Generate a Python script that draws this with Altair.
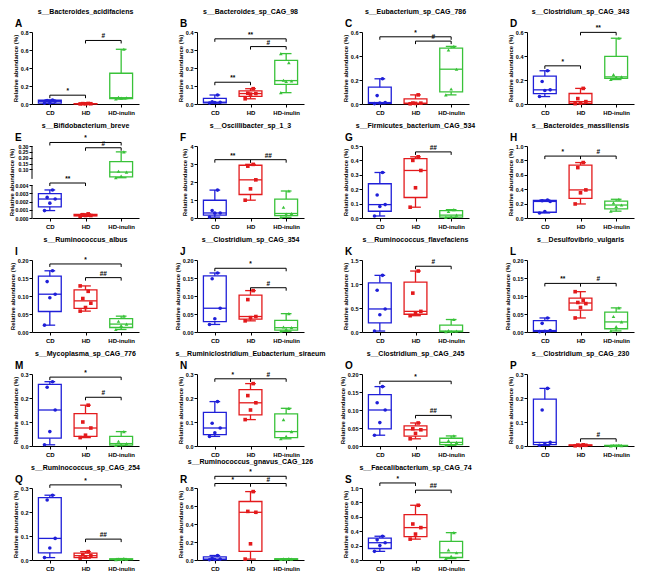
import altair as alt
import pandas as pd
import numpy as np

FONT = "Liberation Sans"
GROUPS = ["CD", "HD", "HD-inulin"]
COLORS = ["#1f1fd8", "#e31a1c", "#39c239"]
SHAPES = ["circle", "square", "triangle-up"]

LETTERS = list("ABCDEFGHIJKLMNOPQRS")
TITLES = [
    "s__Bacteroides_acidifaciens", "s__Bacteroides_sp_CAG_98", "s__Eubacterium_sp_CAG_786",
    "s__Clostridium_sp_CAG_343", "s__Bifidobacterium_breve", "s__Oscillibacter_sp_1_3",
    "s__Firmicutes_bacterium_CAG_534", "s__Bacteroides_massiliensis", "s__Ruminococcus_albus",
    "s__Clostridium_sp_CAG_354", "s__Ruminococcus_flavefaciens", "s__Desulfovibrio_vulgaris",
    "s__Mycoplasma_sp_CAG_776", "s__Ruminiclostridium_Eubacterium_siraeum", "s__Clostridium_sp_CAG_245",
    "s__Clostridium_sp_CAG_230", "s__Ruminococcus_sp_CAG_254", "s__Ruminococcus_gnavus_CAG_126",
    "s__Faecalibacterium_sp_CAG_74",
]

# values per panel (relative abundance, %)
A_CD = [0.008, 0.012, 0.03, 0.038, 0.045]
A_HD = [0.001, 0.002, 0.003, 0.004, 0.006]
A_IN = [0.055, 0.065, 0.07, 0.075, 0.608]
A_TICKS = [0, 0.2, 0.4, 0.6, 0.8]
A_SIG = [["CD", "HD", 0.098, "*"], ["HD", "HD-inulin", 0.706, "#"]]

B_CD = [0.005, 0.008, 0.01, 0.012, 0.05]
B_HD = [0.029, 0.055, 0.058, 0.06, 0.085]
B_IN = [0.063, 0.125, 0.128, 0.132, 0.23, 0.28]
B_TICKS = [0, 0.1, 0.2, 0.3, 0.4]
B_SIG = [["CD", "HD", 0.121, "**"], ["CD", "HD-inulin", 0.362, "**"], ["HD", "HD-inulin", 0.319, "#"]]

C_CD = [0.003, 0.008, 0.012, 0.07, 0.21]
C_HD = [0.002, 0.005, 0.007, 0.008, 0.076]
C_IN = [0.076, 0.125, 0.29, 0.45, 0.48]
C_TICKS = [0, 0.2, 0.4, 0.6]
C_SIG = [["CD", "HD-inulin", 0.56, "*"], ["HD", "HD-inulin", 0.524, "#"]]

D_CD = [0.062, 0.112, 0.118, 0.188, 0.277]
D_HD = [0.003, 0.008, 0.02, 0.045, 0.13]
D_IN = [0.204, 0.222, 0.226, 0.245, 0.548]
D_TICKS = [0, 0.2, 0.4, 0.6]
D_SIG = [["CD", "HD", 0.318, "*"], ["HD", "HD-inulin", 0.597, "**"]]

E_CD = [0.0009, 0.0018, 0.0023, 0.0025, 0.0034]
E_HD = [0.0002, 0.0003, 0.0003, 0.0004, 0.0005]
E_IN = [0.03, 0.045, 0.078, 0.085, 0.25]
E_TICKS = [0, 0.001, 0.002, 0.003, 0.004, 0.10, 0.15, 0.20, 0.25, 0.30]
E_SIG = [["CD", "HD", 0.009, "**"], ["CD", "HD-inulin", 0.33, "*"], ["HD", "HD-inulin", 0.285, "#"]]
E_BREAK_DOMAIN = [0, 0.004, 0.019, 0.30]
E_SEG_LO = [0, 0.02]
E_SEG_HI = [0.004, 0.30]

F_CD = [0.05, 0.27, 0.28, 0.42, 1.55]
F_HD = [0.99, 1.62, 2.12, 2.88, 2.98]
F_IN = [0.04, 0.22, 0.25, 0.6, 1.5]
F_TICKS = [0, 1, 2, 3, 4]
F_SIG = [["CD", "HD", 3.24, "**"], ["HD", "HD-inulin", 3.24, "##"]]

G_CD = [0.014, 0.08, 0.093, 0.16, 0.316]
G_HD = [0.075, 0.21, 0.33, 0.40, 0.425]
G_IN = [0.004, 0.008, 0.02, 0.045, 0.058]
G_TICKS = [0, 0.1, 0.2, 0.3, 0.4, 0.5]
G_SIG = [["HD", "HD-inulin", 0.459, "##"]]

H_CD = [0.07, 0.09, 0.23, 0.24, 0.25]
H_HD = [0.195, 0.35, 0.39, 0.70, 0.77]
H_IN = [0.095, 0.16, 0.18, 0.21, 0.26]
H_TICKS = [0, 0.2, 0.4, 0.6, 0.8, 1.0]
H_SIG = [["CD", "HD", 0.86, "*"], ["HD", "HD-inulin", 0.86, "#"]]

I_CD = [0.019, 0.095, 0.105, 0.14, 0.17]
I_HD = [0.058, 0.068, 0.08, 0.093, 0.113, 0.128]
I_IN = [0.007, 0.018, 0.022, 0.03, 0.044]
I_TICKS = [0, 0.05, 0.10, 0.15, 0.20]
I_SIG = [["CD", "HD-inulin", 0.189, "*"], ["HD", "HD-inulin", 0.151, "##"]]

J_CD = [0.021, 0.037, 0.066, 0.148, 0.164]
J_HD = [0.031, 0.04, 0.043, 0.09, 0.115]
J_IN = [0.002, 0.008, 0.012, 0.014, 0.051]
J_TICKS = [0, 0.05, 0.10, 0.15, 0.20]
J_SIG = [["CD", "HD-inulin", 0.177, "*"], ["HD", "HD-inulin", 0.123, "#"]]

K_CD = [0.02, 0.36, 0.48, 0.87, 1.18]
K_HD = [0.34, 0.40, 0.43, 0.81, 1.27]
K_IN = [0.005, 0.01, 0.02, 0.03, 0.26]
K_TICKS = [0, 0.5, 1.0, 1.5]
K_SIG = [["HD", "HD-inulin", 1.37, "#"]]

L_CD = [0.001, 0.002, 0.004, 0.024, 0.039]
L_HD = [0.039, 0.068, 0.079, 0.082, 0.088, 0.112]
L_IN = [0.003, 0.015, 0.028, 0.043, 0.067]
L_TICKS = [0, 0.05, 0.10, 0.15, 0.20]
L_SIG = [["CD", "HD", 0.135, "**"], ["HD", "HD-inulin", 0.135, "#"]]

M_CD = [0.005, 0.06, 0.15, 0.245, 0.268]
M_HD = [0.035, 0.045, 0.075, 0.1, 0.17]
M_IN = [0.002, 0.005, 0.01, 0.02, 0.06]
M_TICKS = [0, 0.1, 0.2, 0.3]
M_SIG = [["CD", "HD-inulin", 0.287, "*"], ["HD", "HD-inulin", 0.203, "#"]]

N_CD = [0.04, 0.055, 0.075, 0.095, 0.185]
N_HD = [0.11, 0.15, 0.18, 0.21, 0.26]
N_IN = [0.03, 0.04, 0.06, 0.11, 0.157]
N_TICKS = [0, 0.1, 0.2, 0.3]
N_SIG = [["CD", "HD", 0.28, "*"], ["HD", "HD-inulin", 0.28, "#"]]

O_CD = [0.03, 0.065, 0.1, 0.12, 0.165]
O_HD = [0.02, 0.035, 0.045, 0.048, 0.064]
O_IN = [0.002, 0.006, 0.01, 0.015, 0.028]
O_TICKS = [0, 0.05, 0.10, 0.15, 0.20]
O_SIG = [["CD", "HD-inulin", 0.18, "*"], ["HD", "HD-inulin", 0.085, "##"]]

P_CD = [0.003, 0.008, 0.015, 0.15, 0.24]
P_HD = [0.001, 0.002, 0.003, 0.004, 0.005]
P_IN = [0.0005, 0.001, 0.0015, 0.002, 0.003]
P_TICKS = [0, 0.1, 0.2, 0.3]
P_SIG = [["HD", "HD-inulin", 0.03, "#"]]

Q_CD = [0.01, 0.05, 0.09, 0.25, 0.27]
Q_HD = [0.008, 0.012, 0.018, 0.022, 0.035]
Q_IN = [0.001, 0.002, 0.003, 0.004, 0.006]
Q_TICKS = [0, 0.1, 0.2, 0.3]
Q_SIG = [["CD", "HD-inulin", 0.313, "*"], ["HD", "HD-inulin", 0.087, "##"]]

R_CD = [0.003, 0.006, 0.01, 0.02, 0.05]
R_HD = [0.01, 0.18, 0.53, 0.54, 0.76]
R_IN = [0.005, 0.008, 0.01, 0.012, 0.015]
R_TICKS = [0, 0.2, 0.4, 0.6, 0.8]
R_SIG = [["CD", "HD-inulin", 0.93, "*"], ["CD", "HD", 0.85, "*"], ["HD", "HD-inulin", 0.85, "#"]]

S_CD = [0.12, 0.2, 0.24, 0.28, 0.33]
S_HD = [0.29, 0.36, 0.45, 0.5, 0.76]
S_IN = [0.02, 0.05, 0.1, 0.14, 0.38]
S_TICKS = [0, 0.2, 0.4, 0.6, 0.8, 1.0]
S_SIG = [["CD", "HD", 1.07, "*"], ["HD", "HD-inulin", 0.97, "##"]]

FORMATS = {"A": ".1f", "B": ".1f", "C": ".1f", "D": ".1f", "E": None, "F": ".0f", "G": ".1f",
           "H": ".1f", "I": ".2f", "J": ".2f", "K": ".1f", "L": ".2f", "M": ".1f", "N": ".1f",
           "O": ".2f", "P": ".1f", "Q": ".1f", "R": ".1f", "S": ".1f"}

W, H = 107, 72

XS = alt.Scale(domain=[-0.5, 2.5], nice=False, zero=False)
X_LABELS = f"datum.value == 0 ? '{GROUPS[0]}' : datum.value == 1 ? '{GROUPS[1]}' : '{GROUPS[2]}'"
XAX = alt.Axis(values=[0, 1, 2], labelExpr=X_LABELS, title=None, grid=False, tickSize=3,
               labelFontSize=6, labelPadding=2)
COLOR = alt.Color("g:N", scale=alt.Scale(domain=GROUPS, range=COLORS), legend=None)
SHAPE = alt.Shape("g:N", scale=alt.Scale(domain=GROUPS, range=SHAPES), legend=None)


def panel(letter):
    g = globals()
    cd, hd, inul = g[letter + "_CD"], g[letter + "_HD"], g[letter + "_IN"]
    ticks, sig = g[letter + "_TICKS"], g[letter + "_SIG"]
    title = TITLES[LETTERS.index(letter)]
    groups_vals = [cd, hd, inul]

    pts = pd.DataFrame([{"g": grp, "gi": gi, "idx": k, "v": v}
                        for gi, (grp, vals) in enumerate(zip(GROUPS, groups_vals))
                        for k, v in enumerate(vals)])
    stats = []
    for gi, (grp, vals) in enumerate(zip(GROUPS, groups_vals)):
        q1, med, q3 = np.percentile(vals, [25, 50, 75], method="weibull")
        stats.append({"g": grp, "gi": gi, "lo": min(vals), "q1": q1, "med": med,
                      "q3": q3, "hi": max(vals)})
    st = pd.DataFrame(stats)
    sg = pd.DataFrame([{"a": GROUPS.index(s[0]), "b": GROUPS.index(s[1]), "y": s[2], "lab": s[3]}
                       for s in sig])

    broken = letter == "E"
    if broken:
        ys = alt.Scale(domain=E_BREAK_DOMAIN, range=[H, 39, 33, 0], nice=False, zero=False)
        yax = alt.Axis(values=ticks, title="Relative abundance (%)", grid=False, tickSize=3,
                       labelFontSize=5.2, titleFontSize=6, titlePadding=1, labelPadding=1,
                       domain=False,
                       labelExpr="datum.value < 0.01 ? format(datum.value, '.3f') : format(datum.value, '.2f')")
    else:
        ys = alt.Scale(domain=[0, ticks[-1]], nice=False)
        yax = alt.Axis(values=ticks, format=FORMATS[letter], title="Relative abundance (%)",
                       grid=False, tickSize=3, labelFontSize=5.5, titleFontSize=6,
                       titlePadding=2, labelPadding=1)

    def X(f):
        return alt.X(f"{f}:Q", scale=XS, axis=XAX)

    def Y(f):
        return alt.Y(f"{f}:Q", scale=ys, axis=yax)

    bst = alt.Chart(st).transform_calculate(
        x0="datum.gi - 0.32", x1="datum.gi + 0.32", c0="datum.gi - 0.15", c1="datum.gi + 0.15")
    box = bst.mark_rect(filled=False, strokeWidth=1.3).encode(
        x=X("x0"), x2="x1", y=Y("q1"), y2="q3", color=COLOR)
    med = bst.mark_rule(strokeWidth=1.3).encode(x=X("x0"), x2="x1", y=Y("med"), color=COLOR)
    wlo = bst.mark_rule(strokeWidth=1.3).encode(x=X("gi"), y=Y("lo"), y2="q1", color=COLOR)
    whi = bst.mark_rule(strokeWidth=1.3).encode(x=X("gi"), y=Y("q3"), y2="hi", color=COLOR)
    clo = bst.mark_rule(strokeWidth=1.3).encode(x=X("c0"), x2="c1", y=Y("lo"), color=COLOR)
    chi = bst.mark_rule(strokeWidth=1.3).encode(x=X("c0"), x2="c1", y=Y("hi"), color=COLOR)

    points = alt.Chart(pts).transform_calculate(
        jx="datum.gi + ((datum.idx * 2) % 5 - 2) * 0.075"
    ).mark_point(filled=True, size=13, opacity=1).encode(
        x=X("jx"), y=Y("v"), color=COLOR, shape=SHAPE)

    bsg = alt.Chart(sg).transform_calculate(m="(datum.a + datum.b) / 2")
    hl = bsg.mark_rule(color="black", strokeWidth=1).encode(x=X("a"), x2="b", y=Y("y"))
    ea = bsg.mark_rule(color="black", strokeWidth=1, y2Offset=3).encode(x=X("a"), y=Y("y"), y2="y")
    eb = bsg.mark_rule(color="black", strokeWidth=1, y2Offset=3).encode(x=X("b"), y=Y("y"), y2="y")
    tx = bsg.mark_text(fontSize=6.5, fontWeight="bold", baseline="bottom", dy=-1, font=FONT,
                       color="black").encode(x=X("m"), y=Y("y"), text="lab:N")

    lt = alt.Chart(pd.DataFrame({"t": [letter]})).mark_text(
        fontSize=10, fontWeight="bold", align="left", baseline="middle", font=FONT, color="black"
    ).encode(x=alt.value(-17), y=alt.value(-8), text="t:N")

    layers = [box, wlo, whi, clo, chi, med, points, hl, ea, eb, tx, lt]
    if broken:
        seg = alt.Chart(pd.DataFrame({"lo": E_SEG_LO, "hi": E_SEG_HI})).mark_rule(
            color="black", strokeWidth=1).encode(x=alt.value(0), y=Y("lo"), y2="hi")
        layers.insert(0, seg)

    return alt.layer(*layers).properties(
        width=W, height=H,
        title=alt.TitleParams(title, fontSize=7, fontWeight="bold", font=FONT, offset=4,
                              anchor="middle", color="black"))


panels = [panel(l) for l in LETTERS]
chart = alt.concat(*panels, columns=4, spacing={"row": 42, "column": 58}, bounds="flush").properties(
    padding={"left": 0, "top": 0, "right": 2, "bottom": 2}
).configure_view(stroke=None).configure_axis(
    labelFont=FONT, titleFont=FONT, labelFontWeight="bold", titleFontWeight="bold",
    labelColor="black", titleColor="black", domainColor="black", tickColor="black",
    domainWidth=1, tickWidth=1
).configure_title(font=FONT, fontWeight="bold", color="black")

chart.save("out.html", embed_options={"renderer": "svg", "actions": False})
